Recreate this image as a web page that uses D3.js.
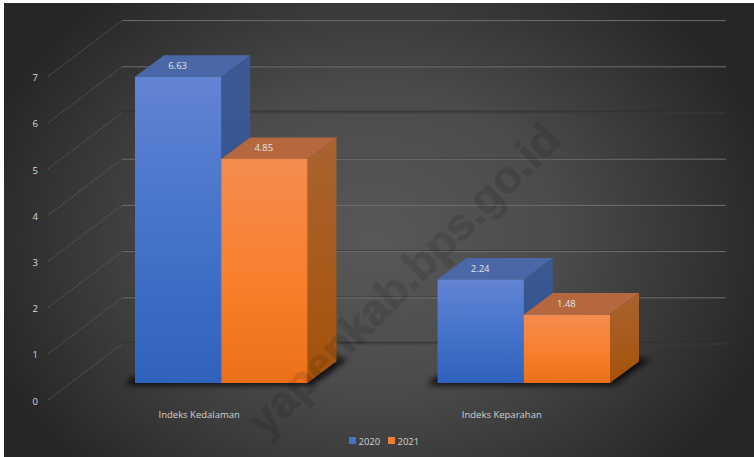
<!DOCTYPE html>
<html>
<head>
<meta charset="utf-8">
<script src="https://cdn.jsdelivr.net/npm/d3@7"></script>
<style>
  html, body { margin: 0; padding: 0; background: #fff; }
  svg { display: block; }
  text { font-family: "Open Sans", "Noto Sans", sans-serif; }
</style>
</head>
<body>
<div id="sandbox"></div>
<script>
var categories = ['Indeks Kedalaman', 'Indeks Keparahan'];
var seriesNames = ['2020', '2021'];
var values2020 = [6.63, 2.24];
var values2021 = [4.85, 1.48];
var yTicks = [0, 1, 2, 3, 4, 5, 6, 7];

var width = 754;
var height = 457;

// oblique depth of the 3d bars and of the chart floor
var barDx = 29, barDy = 21.5;
var wallLeft = 48, wallBack = 122, wallRight = 726;

var svg = d3.select('#sandbox').append('svg')
    .attr('width', width)
    .attr('height', height);

var defs = svg.append('defs');

var bg = defs.append('radialGradient')
    .attr('id', 'bg')
    .attr('gradientUnits', 'userSpaceOnUse')
    .attr('cx', 0).attr('cy', 0).attr('r', 1)
    .attr('gradientTransform', 'translate(375,240) scale(410,330)');
bg.append('stop').attr('offset', 0).attr('stop-color', '#585858');
bg.append('stop').attr('offset', 0.45).attr('stop-color', '#4b4b4b');
bg.append('stop').attr('offset', 1).attr('stop-color', '#262626');

function vGradient(id, top, mid, bottom) {
    var g = defs.append('linearGradient')
        .attr('id', id)
        .attr('x1', 0).attr('y1', 0).attr('x2', 0).attr('y2', 1);
    g.append('stop').attr('offset', 0).attr('stop-color', top);
    g.append('stop').attr('offset', 0.55).attr('stop-color', mid);
    g.append('stop').attr('offset', 1).attr('stop-color', bottom);
}
vGradient('front0', '#6284d2', '#4272c9', '#2f62bd');
vGradient('front1', '#f48c50', '#f97f2c', '#ea7019');
vGradient('side0', '#3c5993', '#34548f', '#2b4f92');
vGradient('side1', '#a9632f', '#a75a1c', '#a4520a');

defs.append('filter').attr('id', 'blur')
    .attr('x', '-20%').attr('y', '-50%').attr('width', '140%').attr('height', '200%')
  .append('feGaussianBlur').attr('stdDeviation', 3);

svg.append('rect')
    .attr('x', 4).attr('y', 3)
    .attr('width', width - 4).attr('height', height - 3)
    .attr('fill', 'url(#bg)');

// one scale per depth plane, all on the same value domain
var yLabel = d3.scaleLinear().domain([0, 7]).range([400, 76.6]);
var yBack = d3.scaleLinear().domain([0, 7]).range([344, 20.6]);
var yFront = d3.scaleLinear().domain([0, 7]).range([383, 59.6]);

var x = d3.scaleBand()
    .domain(categories)
    .range([135, 610])
    .paddingInner(0.43)
    .paddingOuter(0);
var xSeries = d3.scaleBand()
    .domain(seriesNames)
    .range([0, x.bandwidth()]);

// back wall gridlines
var grid = svg.append('g').selectAll('g')
    .data(yTicks)
  .enter().append('g');

grid.append('line')
    .attr('x1', wallBack).attr('x2', wallRight)
    .attr('y1', function(d) { return yBack(d) - 1; })
    .attr('y2', function(d) { return yBack(d) - 1; })
    .attr('stroke', '#2e2e2e')
    .attr('stroke-width', function(d) { return d === 0 || d === 5 ? 3 : 1; })
    .attr('stroke-opacity', function(d) { return d === 7 || d === 3 ? 0 : 0.6; });

grid.append('line')
    .attr('x1', wallBack).attr('x2', wallRight)
    .attr('y1', function(d) { return yBack(d); })
    .attr('y2', function(d) { return yBack(d); })
    .attr('stroke', '#6e6e6e')
    .attr('stroke-width', 1)
    .attr('stroke-opacity', function(d) { return d === 0 || d === 5 ? 0.2 : 1; });

grid.append('line')
    .attr('x1', wallLeft).attr('x2', wallBack)
    .attr('y1', function(d) { return yLabel(d); })
    .attr('y2', function(d) { return yBack(d); })
    .attr('stroke', '#686868')
    .attr('stroke-width', 0.7)
    .attr('stroke-dasharray', '2 1');

var yAxis = d3.axisLeft(yLabel)
    .tickValues(yTicks)
    .tickFormat(d3.format('d'))
    .tickSize(0)
    .tickPadding(0);
var axisG = svg.append('g')
    .attr('transform', 'translate(38,1)')
    .call(yAxis);
axisG.select('.domain').remove();
axisG.selectAll('text')
    .attr('fill', '#d9d9d9')
    .style('font-size', '9.5px')
    .style('font-family', '"Open Sans", sans-serif');

// one row per bar, built from the value arrays
var bars = [];
categories.forEach(function(c, i) {
    bars.push({ category: c, series: seriesNames[0], value: values2020[i], s: 0 });
    bars.push({ category: c, series: seriesNames[1], value: values2021[i], s: 1 });
});

function barX0(d) { return x(d.category) + xSeries(d.series); }
function barX1(d) { return barX0(d) + xSeries.bandwidth(); }

// floor shadows
svg.append('g').selectAll('path')
    .data(categories)
  .enter().append('path')
    .attr('d', function(c) {
        var x0 = x(c), x1 = x(c) + x.bandwidth(), y0 = yFront(0);
        return 'M' + (x0 - 10) + ',' + (y0 + 2) +
            'L' + (x1 + 4) + ',' + (y0 + 2) +
            'L' + (x1 + barDx + 12) + ',' + (y0 - barDy - 3) +
            'L' + (x1 + barDx - 10) + ',' + (y0 - barDy - 3) +
            'L' + x1 + ',' + (y0 - 6) +
            'L' + (x0 - 2) + ',' + (y0 - 6) + 'Z';
    })
    .attr('fill', '#000')
    .attr('fill-opacity', 0.85)
    .attr('filter', 'url(#blur)');

var barG = svg.append('g').selectAll('g')
    .data(bars)
  .enter().append('g');

barG.append('path')
    .attr('class', 'side')
    .attr('d', function(d) {
        var xr = barX1(d), t = yFront(d.value), b = yFront(0);
        return 'M' + xr + ',' + t +
            'L' + (xr + barDx) + ',' + (t - barDy) +
            'L' + (xr + barDx) + ',' + (b - barDy) +
            'L' + xr + ',' + b + 'Z';
    })
    .attr('fill', function(d) { return 'url(#side' + d.s + ')'; });

barG.append('path')
    .attr('class', 'top')
    .attr('d', function(d) {
        var xl = barX0(d), xr = barX1(d), t = yFront(d.value);
        return 'M' + xl + ',' + t +
            'L' + (xl + barDx) + ',' + (t - barDy) +
            'L' + (xr + barDx) + ',' + (t - barDy) +
            'L' + xr + ',' + t + 'Z';
    })
    .attr('fill', function(d) { return d.s === 0 ? '#4a68a8' : '#b5683d'; });

barG.append('rect')
    .attr('class', 'front')
    .attr('x', barX0)
    .attr('y', function(d) { return yFront(d.value); })
    .attr('width', xSeries.bandwidth())
    .attr('height', function(d) { return yFront(0) - yFront(d.value); })
    .attr('fill', function(d) { return 'url(#front' + d.s + ')'; });

barG.append('text')
    .attr('x', function(d) { return barX0(d) + xSeries.bandwidth() / 2 - 0.5; })
    .attr('y', function(d) { return yFront(d.value) - 8; })
    .attr('text-anchor', 'middle')
    .attr('fill', '#e4e4e4')
    .style('font-size', '9.5px')
    .text(function(d) { return d.value.toFixed(2); });

svg.append('g').selectAll('text')
    .data(categories)
  .enter().append('text')
    .attr('x', function(c) { return x(c) + x.bandwidth() / 2 - 22; })
    .attr('y', 417.5)
    .attr('text-anchor', 'middle')
    .attr('fill', '#d0d0d0')
    .style('font-size', '9.5px')
    .text(function(c) { return c; });

// legend
var legendX = d3.scaleOrdinal().domain(seriesNames).range([349, 388]);
var legendColor = d3.scaleOrdinal().domain(seriesNames).range(['#4472c4', '#ed7d31']);
var legend = svg.append('g').selectAll('g')
    .data(seriesNames)
  .enter().append('g')
    .attr('transform', function(d) { return 'translate(' + legendX(d) + ',437)'; });
legend.append('rect')
    .attr('width', 7).attr('height', 7)
    .attr('fill', function(d) { return legendColor(d); });
legend.append('text')
    .attr('x', 9.5).attr('y', 7.5)
    .attr('fill', '#d0d0d0')
    .style('font-size', '9.5px')
    .text(function(d) { return d; });

// watermark sits over everything
svg.append('text')
    .attr('transform', 'translate(563,142) rotate(-45)')
    .attr('text-anchor', 'end')
    .attr('fill', '#000')
    .attr('stroke', '#000')
    .attr('stroke-width', 1)
    .style('opacity', 0.1)
    .style('font-family', '"Liberation Sans", sans-serif')
    .style('font-weight', 'bold')
    .style('font-size', '45px')
    .text('yapenkab.bps.go.id');
</script>
</body>
</html>
